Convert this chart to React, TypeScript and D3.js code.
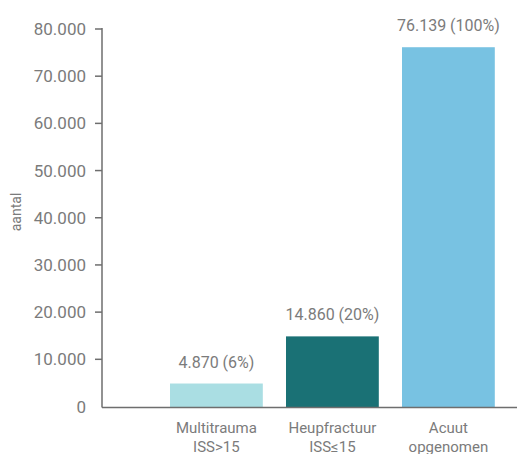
import React from "react";
import * as d3 from "d3";

// Aantal patiënten per groep
const categories = ["Multitrauma\nISS>15", "Heupfractuur\nISS≤15", "Acuut\nopgenomen"];
const counts = [4870, 14860, 76139];
const percents = ["6%", "20%", "100%"];
const barColors = ["#aaDEE3", "#1a7175", "#78c2e2"];
const yTicks = [0, 10000, 20000, 30000, 40000, 50000, 60000, 70000, 80000];
const yTitle = "aantal";

const W = 517;
const H = 454;
const axisX = 102;
const baseY = 407.5;

const nl = d3.formatLocale({ decimal: ",", thousands: ".", grouping: [3], currency: ["€", ""] });
const fmt = nl.format(",d");

export default function App() {
  const x = d3
    .scaleBand<string>()
    .domain(categories)
    .range([158.4, 506.4])
    .paddingInner(0.2)
    .paddingOuter(0.1);
  const y = d3.scaleLinear().domain([0, 80000]).range([406.5, 29]);

  const textColor = "#7b7b7b";
  const axisColor = "#6e6e6e";
  const font = "Roboto, 'DejaVu Sans', sans-serif";

  return (
    <svg
      width={W}
      height={H}
      style={{ position: "absolute", left: 0, top: 0, background: "#fff" }}
      fontFamily={font}
    >
      {/* bars */}
      {categories.map((c, i) => (
        <rect
          key={c}
          x={x(c)}
          y={y(counts[i])}
          width={x.bandwidth()}
          height={baseY - y(counts[i])}
          fill={barColors[i]}
        />
      ))}

      {/* value labels */}
      {categories.map((c, i) => (
        <text
          key={"v" + c}
          x={(x(c) as number) + x.bandwidth() / 2}
          y={y(counts[i]) - 16}
          textAnchor="middle"
          fontSize={16}
          fill={textColor}
        >
          {`${fmt(counts[i])} (${percents[i]})`}
        </text>
      ))}

      {/* y axis */}
      <line x1={axisX} x2={axisX} y1={y(80000) - 1} y2={baseY} stroke={axisColor} strokeWidth={1.5} />
      <line x1={axisX} x2={W} y1={baseY} y2={baseY} stroke={axisColor} strokeWidth={1.5} />
      {yTicks.map((t) => (
        <g key={t}>
          {t > 0 && (
            <line x1={axisX - 7} x2={axisX} y1={y(t)} y2={y(t)} stroke={axisColor} strokeWidth={1.5} />
          )}
          <text
            x={86}
            y={y(t)}
            dy="0.36em"
            textAnchor="end"
            fontSize={17}
            fill={textColor}
          >
            {fmt(t)}
          </text>
        </g>
      ))}

      {/* y title */}
      <text
        transform={`translate(21, ${212}) rotate(-90)`}
        textAnchor="middle"
        fontSize={14}
        fill={textColor}
      >
        {yTitle}
      </text>

      {/* category labels */}
      {categories.map((c) => {
        const cx = (x(c) as number) + x.bandwidth() / 2;
        return (
          <text key={"c" + c} x={cx} y={433} textAnchor="middle" fontSize={15} fill={textColor}>
            {c.split("\n").map((line, k) => (
              <tspan key={k} x={cx} dy={k === 0 ? 0 : 18.5}>
                {line}
              </tspan>
            ))}
          </text>
        );
      })}
    </svg>
  );
}
